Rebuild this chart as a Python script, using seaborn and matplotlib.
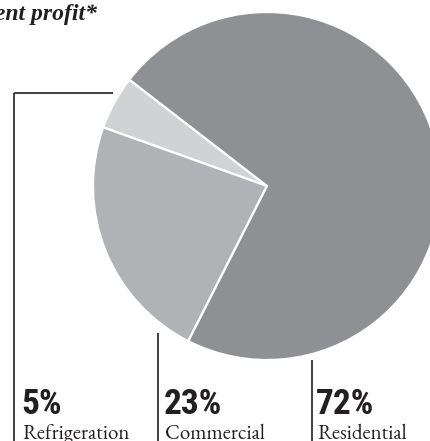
import matplotlib
matplotlib.use("Agg")
import matplotlib.pyplot as plt
import seaborn as sns

sns.set_theme(style="white")

segments = ["Refrigeration", "Commercial", "Residential"]
shares = [5, 23, 72]
colors = ["#d1d2d4", "#b1b2b5", "#8f9094"]
title = "Segment profit*"

num_font = ["Roboto Condensed", "DejaVu Sans"]
serif_font = ["EB Garamond", "Liberation Serif", "DejaVu Serif"]
title_font = ["Liberation Serif", "DejaVu Serif"]

W, H = 430, 441
fig = plt.figure(figsize=(W / 100, H / 100), dpi=100)
ax = fig.add_axes([0, 0, 1, 1])

# pie in pixel units, y measured upward
ax.pie(shares, colors=colors, startangle=142.3, counterclock=True,
       center=(267, H - 186), radius=174,
       wedgeprops=dict(edgecolor="white", linewidth=1.6))
ax.set_xlim(0, W)
ax.set_ylim(0, H)
ax.set_aspect("auto")
ax.axis("off")

# leader lines
lc = "#231f20"
ax.plot([14, 113], [H - 93, H - 93], color=lc, lw=1.2, solid_capstyle="butt")
ax.plot([14, 14], [H - 93, 0], color=lc, lw=1.2, solid_capstyle="butt")
ax.plot([158, 158], [H - 333, 0], color=lc, lw=1.2, solid_capstyle="butt")
ax.plot([312, 312], [H - 360, 0], color=lc, lw=1.2, solid_capstyle="butt")

label_x = [21, 164, 316]
for name, val, x in zip(segments, shares, label_x):
    ax.text(x, H - 414, f"{val}%", fontsize=25.5, fontweight="bold",
            fontstretch="condensed",
            family=num_font, color="#231f20",
            ha="left", va="baseline")
    ax.text(x + 1, H - 439, name, fontsize=15,
            family=serif_font, color="#231f20",
            ha="left", va="baseline")

ax.text(97, H - 20, title, fontsize=17, fontweight="bold", fontstyle="italic",
        family=title_font, color="#231f20",
        ha="right", va="baseline")

fig.savefig("out.png", dpi=100)
